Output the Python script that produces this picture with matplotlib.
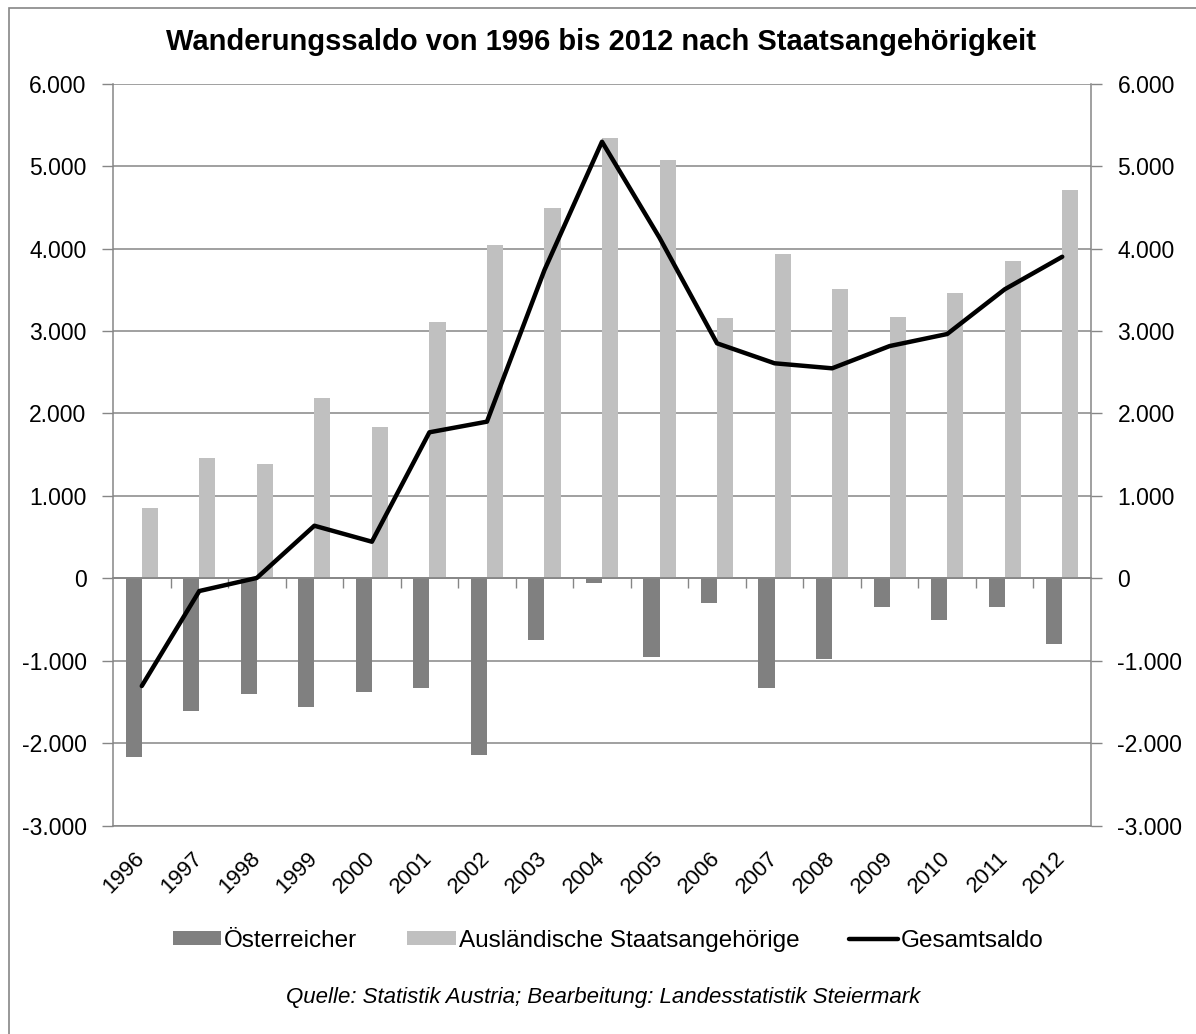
import numpy as np
import matplotlib
matplotlib.use('Agg')
import matplotlib.pyplot as plt
from matplotlib.patches import Rectangle

plt.rcParams['font.family'] = ['Liberation Sans', 'DejaVu Sans']

years = [str(y) for y in range(1996, 2013)]
oesterreicher = [-2164, -1606, -1403, -1557, -1379, -1334, -2139, -752, -61,
                 -955, -303, -1334, -983, -352, -509, -352, -800]
auslaender = [849, 1455, 1386, 2190, 1835, 3105, 4042, 4488, 5340,
              5074, 3153, 3933, 3505, 3173, 3464, 3845, 4713]
gesamtsaldo = [-1306, -154, 5, 638, 444, 1771, 1900, 3739, 5295,
               4130, 2850, 2608, 2547, 2817, 2963, 3505, 3900]
yticks = list(range(-3000, 7000, 1000))

GRID = '#868686'
W, H = 1196, 1034

def fmt(v):
    return f"{v:,.0f}".replace(',', '.')

fig = plt.figure(figsize=(W / 100, H / 100), dpi=100)
ax = fig.add_axes([113 / W, 1 - 825.7 / H, (1091 - 113) / W, (825.7 - 83.6) / H])

x = np.arange(len(years))
bw = 0.28
b1 = ax.bar(x - bw / 2, oesterreicher, bw, color='#808080', label='Österreicher', zorder=2)
b2 = ax.bar(x + bw / 2, auslaender, bw, color='#c0c0c0', label='Ausländische Staatsangehörige', zorder=2)
l1, = ax.plot(x, gesamtsaldo, color='black', lw=3.2, solid_joinstyle='round',
              solid_capstyle='round', label='Gesamtsaldo', zorder=3)

ax.set_xlim(-0.5, len(years) - 0.5)
ax.set_ylim(-3000, 6000)
ax.set_yticks(yticks, [fmt(v) for v in yticks])
ax.yaxis.grid(True, color=GRID, lw=1.1)
ax.set_axisbelow(True)
ax.tick_params(axis='y', which='major', left=True, right=True, labelleft=True,
               labelright=True, length=8, width=1, color=GRID, labelsize=16.5, pad=11)

# category axis at zero with boundary ticks
ax.spines['bottom'].set_position(('data', 0))
ax.spines['bottom'].set_color(GRID)
ax.spines['bottom'].set_linewidth(1.3)
ax.spines['top'].set_visible(False)
for s in ('left', 'right'):
    ax.spines[s].set_color(GRID)
    ax.spines[s].set_linewidth(1.1)
ax.set_xticks(x)
ax.set_xticks(np.arange(0.5, len(years) - 1, 1), minor=True)
ax.tick_params(axis='x', which='major', length=0, labelbottom=False)
ax.tick_params(axis='x', which='minor', length=7, width=1, color=GRID, direction='out')

# year labels at the bottom of the plot
sec = ax.secondary_xaxis('bottom')
sec.set_xticks(x, years)
sec.tick_params(length=0, labelsize=16, pad=21)
for lbl in sec.get_xticklabels():
    lbl.set_rotation(45)
    lbl.set_ha('right')
    lbl.set_va('center')
    lbl.set_rotation_mode('anchor')
sec.spines['bottom'].set_color(GRID)
sec.spines['bottom'].set_linewidth(1.1)

fig.text(601 / W, 1 - 42.5 / H, 'Wanderungssaldo von 1996 bis 2012 nach Staatsangehörigkeit',
         ha='center', va='center', fontsize=21, fontweight='bold')

fig.legend(handles=[b1, b2, l1], loc='center', bbox_to_anchor=(608 / W, 1 - 941 / H),
           ncol=3, frameon=False, fontsize=17.5, handlelength=2.0, handleheight=0.52,
           handletextpad=0.12, columnspacing=2.05)

fig.text(603 / W, 1 - 998 / H,
         'Quelle: Statistik Austria; Bearbeitung: Landesstatistik Steiermark',
         ha='center', va='center', fontsize=16, style='italic')

fig.patches.append(Rectangle((9 / W, -0.05), 1.2, 1.05 - 8.3 / H, transform=fig.transFigure,
                             fill=False, ec=GRID, lw=1.2))

fig.savefig('out.png', dpi=100)
